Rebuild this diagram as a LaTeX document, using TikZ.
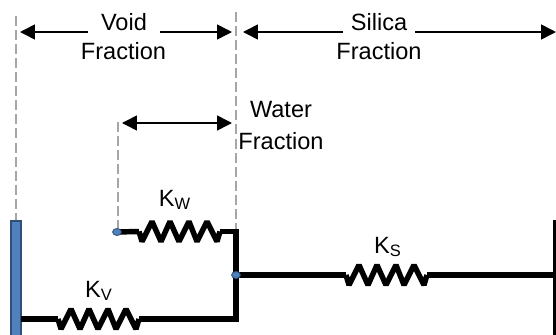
\documentclass[tikz,border=0pt]{standalone}
\usepackage{fontspec}
\setmainfont{Liberation Sans}
\usetikzlibrary{arrows.meta,shapes.geometric}

\definecolor{barblue}{HTML}{4F81BD}
\definecolor{baredge}{HTML}{2F4F78}
\definecolor{guidegray}{HTML}{A6A6A6}

\tikzset{
  wire/.style={line width=3.1pt,line join=bevel},
  guide/.style={guidegray,line width=1pt,dash pattern=on 5.7pt off 2.3pt},
  span/.style={{Triangle[length=8.5pt,width=8.5pt]}-{Triangle[length=8.5pt,width=8.5pt]},line width=0.9pt},
  label/.style={font=\fontsize{13.4}{16}\selectfont,inner sep=0pt},
  gap/.style={fill=white,minimum height=12pt},
  joint/.style={ellipse,fill=barblue,draw=baredge,line width=0.5pt,minimum width=5pt,minimum height=4pt,inner sep=0pt},
  spring/.pic={
    \draw[wire] (0,0) -- (3,10) -- (13,-10) -- (22,10) -- (31,-10) -- (40,10) -- (50,-10) -- (58,10) -- (68,-10) -- (78,10) -- (81,0);
  }
}

\begin{document}
\begin{tikzpicture}[x=0.02cm,y=-0.02cm]
 \useasboundingbox (0,0) rectangle (556,335);

 % dashed guides
 \coordinate (leftt) at (16,16);
 \coordinate (leftb) at (16,221);
 \coordinate (midt) at (236,12);
 \coordinate (midb) at (236,232);
 \coordinate (watert) at (117.8,122);
 \coordinate (waterb) at (117.8,229);
 \draw[guide] (leftt) -- (leftb);
 \draw[guide] (midt) -- (midb);
 \draw[guide] (watert) -- (waterb);

 % fraction arrows
 \coordinate (voidl) at (20,32);
 \coordinate (voidr) at (232,32);
 \coordinate (silical) at (243,32);
 \coordinate (silicar) at (556,32);
 \coordinate (waterl) at (122,123);
 \coordinate (waterr) at (232,123);
 \draw[span] (voidl) -- (voidr);
 \draw[span] (silical) -- (silicar);
 \draw[span] (waterl) -- (waterr);

 \node[label,gap,minimum width=41pt] (void) at (124,22) {Void};
 \node[label] (voidfrac) at (123.5,51) {Fraction};
 \node[label,gap,minimum width=41pt] (silica) at (379,22) {Silica};
 \node[label] (silicafrac) at (379,51) {Fraction};
 \node[label] (water) at (281,110) {Water};
 \node[label] (waterfrac) at (281,141) {Fraction};

 % left wall and right wall
 \filldraw[fill=barblue,draw=baredge,line width=0.6pt] (11,221) rectangle (21,340);
 \coordinate (rightt) at (554.5,220);
 \coordinate (rightb) at (554.5,335);
 \draw[line width=1.4pt] (rightt) -- (rightb);

 % springs and wires
 \coordinate (wl) at (139,231.5);
 \coordinate (wr) at (220,231.5);
 \coordinate (vl) at (58,319);
 \coordinate (vr) at (139,319);
 \coordinate (sl) at (346,275);
 \coordinate (sr) at (427,275);
 \coordinate (wall) at (21,319);
 \coordinate (corner) at (236,231.5);
 \coordinate (cornerb) at (236,319);
 \coordinate (rightj) at (554.5,275);
 \coordinate (jwpos) at (117,232);
 \coordinate (jspos) at (236,275);

 \draw[wire] (jwpos) -- (wl);
 \pic at (wl) {spring};
 \draw[wire,line join=miter] (wr) -- (corner) -- (cornerb) -- (vr);
 \pic at (vl) {spring};
 \draw[wire] (wall) -- (vl);
 \draw[wire] (jspos) -- (sl);
 \pic at (sl) {spring};
 \draw[wire] (sr) -- (rightj);

 \node[joint] (jw) at (jwpos) {};
 \node[joint] (js) at (jspos) {};

 \node[label] (kw) at (175,200) {K\textsubscript{W}};
 \node[label] (kv) at (99,291) {K\textsubscript{V}};
 \node[label] (ks) at (388,247) {K\textsubscript{S}};

\end{tikzpicture}
\end{document}
